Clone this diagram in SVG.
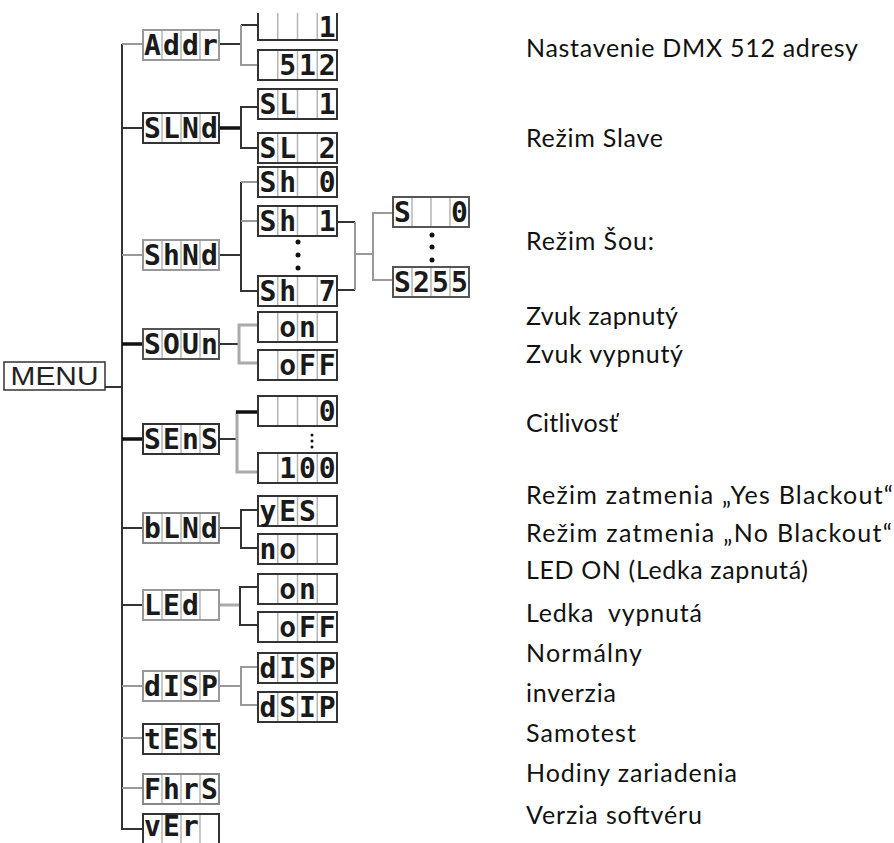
<svg xmlns="http://www.w3.org/2000/svg" width="894" height="843" viewBox="0 0 894 843">
<style>
.lcd{font-family:"DejaVu Sans Mono",monospace;font-weight:bold;font-size:28px;fill:#1a1a1a;text-anchor:middle}
.lbl{font-family:Lato,"Open Sans",sans-serif;font-size:25px;fill:#111}
.menu{font-family:"Liberation Sans",Arial,sans-serif;font-size:25px;fill:#222;text-anchor:middle}
.cell{fill:none;stroke:#b5b5b5;stroke-width:1.5}
.dk{stroke:#333;stroke-width:2;fill:none}
.gy{stroke:#999;stroke-width:2;fill:none}
.bk{stroke:#111;stroke-width:3.5;fill:none}
.lg{stroke:#aaa;stroke-width:3;fill:none}
.dot{fill:#111}
</style>
<defs>
<g id="b76"><rect x="0" y="0" width="76" height="30" fill="#fff" stroke="none"/><path class="cell" d="M19 0V30M38 0V30M57 0V30"/><rect x="0" y="0" width="76" height="30" fill="none" stroke-width="2"/></g>
<g id="b79"><rect x="0" y="0" width="79" height="30" fill="#fff" stroke="none"/><path class="cell" d="M19.75 0V30M39.5 0V30M59.25 0V30"/><rect x="0" y="0" width="79" height="30" fill="none" stroke-width="2"/></g>
</defs>
<rect width="894" height="843" fill="#fff"/>

<g id="connectors">
<path class="dk" d="M105 387H122M122 44V829H143"/>
<path class="gy" d="M122 44H143"/>
<path class="dk" d="M122 128H143"/>
<path class="gy" d="M122 255H143"/>
<path class="bk" d="M122 344H143M122 439H143"/>
<path class="dk" d="M122 528H143M122 605H143"/>
<path class="gy" d="M122 686H143M122 738H143M122 788H143"/>
<path class="dk" d="M219 44H241M241 25H258"/>
<path class="gy" d="M241 25V65H258"/>
<path class="bk" d="M219 128H241"/>
<path class="dk" d="M258 107H241V148H258"/>
<path class="dk" d="M219 255H241M241 182V291H258"/>
<path class="gy" d="M241 182H258M241 221H258"/>
<path class="dk" d="M337 222H355M337 290H355"/>
<path class="gy" d="M355 222V290M355 254H373M393 213H373V280H393"/>
<path class="dk" d="M219 344H239"/>
<path class="lg" d="M258 325H239V363H258"/>
<path class="dk" d="M219 439H237"/>
<path class="lg" d="M237 412V472H258"/>
<path class="bk" d="M236 412H258"/>
<path class="dk" d="M219 528H241M258 510H241V548H258"/>
<path class="lg" d="M219 605H240"/>
<path class="dk" d="M258 587H240V625H258"/>
<path class="gy" d="M219 686H241M258 667H241V705H258"/>
</g>

<g id="menu"><rect x="4" y="362" width="101" height="28" fill="none" stroke="#333" stroke-width="1.5"/><text class="menu" x="54.5" y="385" textLength="88" lengthAdjust="spacingAndGlyphs">MENU</text></g>

<g id="addr"><use href="#b76" x="143" y="30" stroke="#999"/><text class="lcd" x="152.5 171.5 190.5 209.5" y="55">Addr</text></g>
<g id="slnd"><use href="#b76" x="143" y="113" stroke="#333"/><text class="lcd" x="152.5 171.5 190.5 209.5" y="138">SLNd</text></g>
<g id="shnd"><use href="#b76" x="143" y="240" stroke="#999"/><text class="lcd" x="152.5 171.5 190.5 209.5" y="265">ShNd</text></g>
<g id="soun"><use href="#b76" x="143" y="329" stroke="#555"/><text class="lcd" x="152.5 171.5 190.5 209.5" y="354">SOUn</text></g>
<g id="sens"><use href="#b76" x="143" y="424" stroke="#333"/><text class="lcd" x="152.5 171.5 190.5 209.5" y="449">SEnS</text></g>
<g id="blnd"><use href="#b76" x="143" y="513" stroke="#888"/><text class="lcd" x="152.5 171.5 190.5 209.5" y="538">bLNd</text></g>
<g id="led"><use href="#b76" x="143" y="590" stroke="#999"/><text class="lcd" x="152.5 171.5 190.5" y="615">LEd</text></g>
<g id="disp"><use href="#b76" x="143" y="671" stroke="#999"/><text class="lcd" x="152.5 171.5 190.5 209.5" y="696">dISP</text></g>
<g id="test"><use href="#b76" x="143" y="724" stroke="#333"/><text class="lcd" x="152.5 171.5 190.5 209.5" y="749">tESt</text></g>
<g id="fhrs"><use href="#b76" x="143" y="774" stroke="#888"/><text class="lcd" x="152.5 171.5 190.5 209.5" y="799">FhrS</text></g>
<g id="ver"><use href="#b76" x="143" y="814" stroke="#333"/><text class="lcd" x="152.5 171.5 190.5" y="836">vEr</text></g>

<g id="addr-1"><rect x="258" y="13" width="79" height="27" fill="#fff"/><path class="cell" d="M277.75 13V40M297.5 13V40M317.25 13V40"/><path class="dk" d="M258 13V40H337V13"/><text class="lcd" x="327.1" y="37">1</text></g>
<g id="addr-512"><use href="#b79" x="258" y="50" stroke="#333"/><text class="lcd" x="287.6 307.4 327.1" y="75">512</text></g>
<g id="sl1"><use href="#b79" x="258" y="89" stroke="#333"/><text class="lcd" x="267.9 287.6 327.1" y="114">SL1</text></g>
<g id="sl2"><use href="#b79" x="258" y="133" stroke="#333"/><text class="lcd" x="267.9 287.6 327.1" y="158">SL2</text></g>
<g id="sh0"><use href="#b79" x="258" y="167" stroke="#333"/><text class="lcd" x="267.9 287.6 327.1" y="192">Sh0</text></g>
<g id="sh1"><use href="#b79" x="258" y="206" stroke="#333"/><text class="lcd" x="267.9 287.6 327.1" y="231">Sh1</text></g>
<g id="sh-dots"><circle class="dot" cx="298" cy="242" r="2.5"/><circle class="dot" cx="298" cy="255" r="2.5"/><circle class="dot" cx="298" cy="268" r="2.5"/></g>
<g id="sh7"><use href="#b79" x="258" y="276" stroke="#333"/><text class="lcd" x="267.9 287.6 327.1" y="301">Sh7</text></g>
<g id="s0"><use href="#b76" x="393" y="197" stroke="#555"/><text class="lcd" x="402.5 459.5" y="222">S0</text></g>
<g id="s-dots"><circle class="dot" cx="432" cy="235" r="2.5"/><circle class="dot" cx="432" cy="247" r="2.5"/><circle class="dot" cx="432" cy="260" r="2.5"/></g>
<g id="s255"><use href="#b76" x="393" y="267" stroke="#555"/><text class="lcd" x="402.5 421.5 440.5 459.5" y="292">S255</text></g>
<g id="sound-on"><use href="#b79" x="258" y="312" stroke="#333"/><text class="lcd" x="287.6 307.4" y="337">on</text></g>
<g id="sound-off"><use href="#b79" x="258" y="350" stroke="#333"/><text class="lcd" x="287.6 307.4 327.1" y="375">oFF</text></g>
<g id="sens-0"><use href="#b79" x="258" y="396" stroke="#333"/><text class="lcd" x="327.1" y="421">0</text></g>
<g id="sens-dots"><circle class="dot" cx="312" cy="435" r="1.5"/><circle class="dot" cx="312" cy="441" r="1.5"/><circle class="dot" cx="312" cy="447" r="1.5"/></g>
<g id="sens-100"><use href="#b79" x="258" y="453" stroke="#333"/><text class="lcd" x="287.6 307.4 327.1" y="478">100</text></g>
<g id="yes"><use href="#b79" x="258" y="496" stroke="#333"/><text class="lcd" x="267.9 287.6 307.4" y="521">yES</text></g>
<g id="no"><use href="#b79" x="258" y="534" stroke="#333"/><text class="lcd" x="267.9 287.6" y="559">no</text></g>
<g id="led-on"><use href="#b79" x="258" y="574" stroke="#333"/><text class="lcd" x="287.6 307.4" y="599">on</text></g>
<g id="led-off"><use href="#b79" x="258" y="612" stroke="#333"/><text class="lcd" x="287.6 307.4 327.1" y="637">oFF</text></g>
<g id="disp-n"><use href="#b79" x="258" y="653" stroke="#333"/><text class="lcd" x="267.9 287.6 307.4 327.1" y="678">dISP</text></g>
<g id="disp-i"><use href="#b79" x="258" y="692" stroke="#333"/><text class="lcd" x="267.9 287.6 307.4 327.1" y="717">dSIP</text></g>

<g id="labels">
<text class="lbl" x="526" y="57" textLength="332" lengthAdjust="spacing">Nastavenie DMX 512 adresy</text>
<text class="lbl" x="526" y="147" textLength="137" lengthAdjust="spacing">Režim Slave</text>
<text class="lbl" x="526" y="250" textLength="128" lengthAdjust="spacing">Režim Šou:</text>
<text class="lbl" x="526" y="325" textLength="152" lengthAdjust="spacing">Zvuk zapnutý</text>
<text class="lbl" x="526" y="363" textLength="157" lengthAdjust="spacing">Zvuk vypnutý</text>
<text class="lbl" x="526" y="432" textLength="92" lengthAdjust="spacing">Citlivosť</text>
<text class="lbl" x="526" y="504" textLength="367" lengthAdjust="spacing">Režim zatmenia „Yes Blackout“</text>
<text class="lbl" x="526" y="542" textLength="366" lengthAdjust="spacing">Režim zatmenia „No Blackout“</text>
<text class="lbl" x="526" y="579" textLength="282" lengthAdjust="spacing">LED ON (Ledka zapnutá)</text>
<text class="lbl" x="526" y="622" textLength="176" lengthAdjust="spacing" style="white-space:pre">Ledka  vypnutá</text>
<text class="lbl" x="526" y="662" textLength="116" lengthAdjust="spacing">Normálny</text>
<text class="lbl" x="526" y="702" textLength="90" lengthAdjust="spacing">inverzia</text>
<text class="lbl" x="526" y="742" textLength="110" lengthAdjust="spacing">Samotest</text>
<text class="lbl" x="526" y="782" textLength="211" lengthAdjust="spacing">Hodiny zariadenia</text>
<text class="lbl" x="526" y="824" textLength="176" lengthAdjust="spacing">Verzia softvéru</text>
</g>
</svg>
